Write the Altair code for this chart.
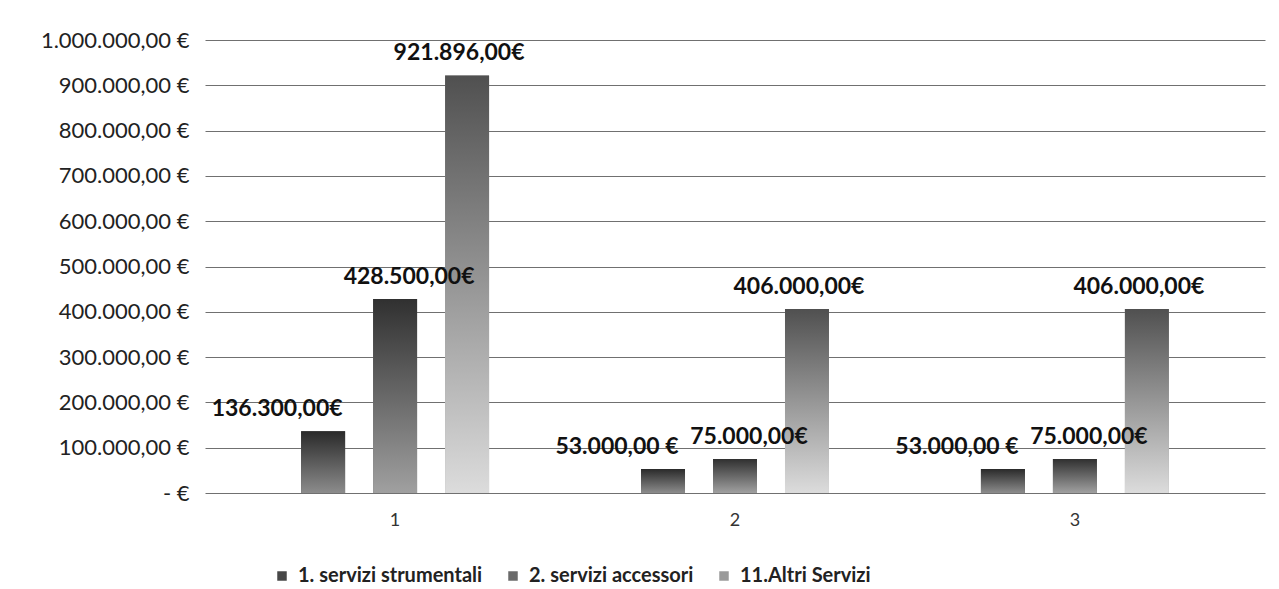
import json
import altair as alt
import pandas as pd

# ---- data ----
groups = ["1", "2", "3"]
series = ["1. servizi strumentali", "2. servizi accessori", "11.Altri Servizi"]
servizi_strumentali = [136300, 53000, 53000]
servizi_accessori = [428500, 75000, 75000]
altri_servizi = [921896, 406000, 406000]
labels_strumentali = ["136.300,00€", "53.000,00 €", "53.000,00 €"]
labels_accessori = ["428.500,00€", "75.000,00€", "75.000,00€"]
labels_altri = ["921.896,00€", "406.000,00€", "406.000,00€"]
y_ticks = [0, 100000, 200000, 300000, 400000, 500000, 600000, 700000, 800000, 900000, 1000000]
y_tick_labels = ["-   €", "100.000,00 €", "200.000,00 €", "300.000,00 €", "400.000,00 €",
                 "500.000,00 €", "600.000,00 €", "700.000,00 €", "800.000,00 €",
                 "900.000,00 €", "1.000.000,00 €"]

rows = []
for s, vals, labs in zip(series,
                         [servizi_strumentali, servizi_accessori, altri_servizi],
                         [labels_strumentali, labels_accessori, labels_altri]):
    for g, v, l in zip(groups, vals, labs):
        rows.append({"group": g, "series": s, "value": v, "label": l})
df = pd.DataFrame(rows)

FONT = "Lato"
legend_colors = ["#474747", "#6a6a6a", "#9a9a9a"]
grad_stops = [("#2a2a2a", "#8c8c8c"), ("#303030", "#a0a0a0"), ("#505050", "#dcdcdc")]

label_expr = json.dumps(y_tick_labels, ensure_ascii=False) + "[round(datum.value / 100000)]"

x_enc = alt.X("group:N",
              scale=alt.Scale(domain=groups, paddingInner=0.0235, paddingOuter=0.071),
              axis=alt.Axis(title=None, labelAngle=0, domain=False, ticks=False,
                            labelFont=FONT, labelFontSize=18, labelColor="#333333",
                            labelPadding=18))
xoff_enc = alt.XOffset("series:N",
                       scale=alt.Scale(domain=series, paddingInner=0.389, paddingOuter=1))
y_enc = alt.Y("value:Q",
              scale=alt.Scale(domain=[0, 1000000], nice=False),
              axis=alt.Axis(values=y_ticks, labelExpr=label_expr, title=None,
                            domain=False, ticks=False, gridColor="#707070", gridWidth=1,
                            labelFont=FONT, labelFontSize=22, labelColor="#222222",
                            labelPadding=16))

base = alt.Chart(df)

legend_bars = base.mark_bar().encode(
    x=x_enc, xOffset=xoff_enc, y=y_enc,
    color=alt.Color("series:N",
                    scale=alt.Scale(domain=series, range=legend_colors),
                    legend=alt.Legend(title=None, orient="none", direction="horizontal",
                                      legendX=67, legendY=526, symbolType="square",
                                      symbolSize=90, symbolStrokeWidth=0,
                                      labelFont=FONT, labelFontSize=20, labelFontWeight="bold",
                                      labelLimit=0,
                                      labelColor="#222222", columnPadding=20,
                                      symbolOffset=0, labelOffset=6)),
)

layers = [legend_bars]
for s, (top, bottom) in zip(series, grad_stops):
    grad = alt.Gradient(gradient="linear",
                        stops=[alt.GradientStop(color=top, offset=0),
                               alt.GradientStop(color=bottom, offset=1)],
                        x1=0, x2=0, y1=0, y2=1)
    layers.append(base.transform_filter(alt.datum.series == s)
                  .mark_bar(color=grad)
                  .encode(x=x_enc, xOffset=xoff_enc, y=y_enc))

text_dx = [-46, 14, -8]
for s, dx in zip(series, text_dx):
    layers.append(base.transform_filter(alt.datum.series == s)
                  .mark_text(font=FONT, fontSize=23, fontWeight="bold", color="#111111",
                             baseline="bottom", dx=dx, dy=-10)
                  .encode(x=x_enc, xOffset=xoff_enc, y=y_enc, text="label:N"))

chart = alt.layer(*layers).properties(
    width=1060, height=453,
    padding={"left": 197, "top": 32, "right": 6, "bottom": 96},
    autosize=alt.AutoSizeParams(type="none"),
    background="white",
).configure_view(stroke=None)

chart.save("out.html", embed_options={"renderer": "svg", "actions": False})
